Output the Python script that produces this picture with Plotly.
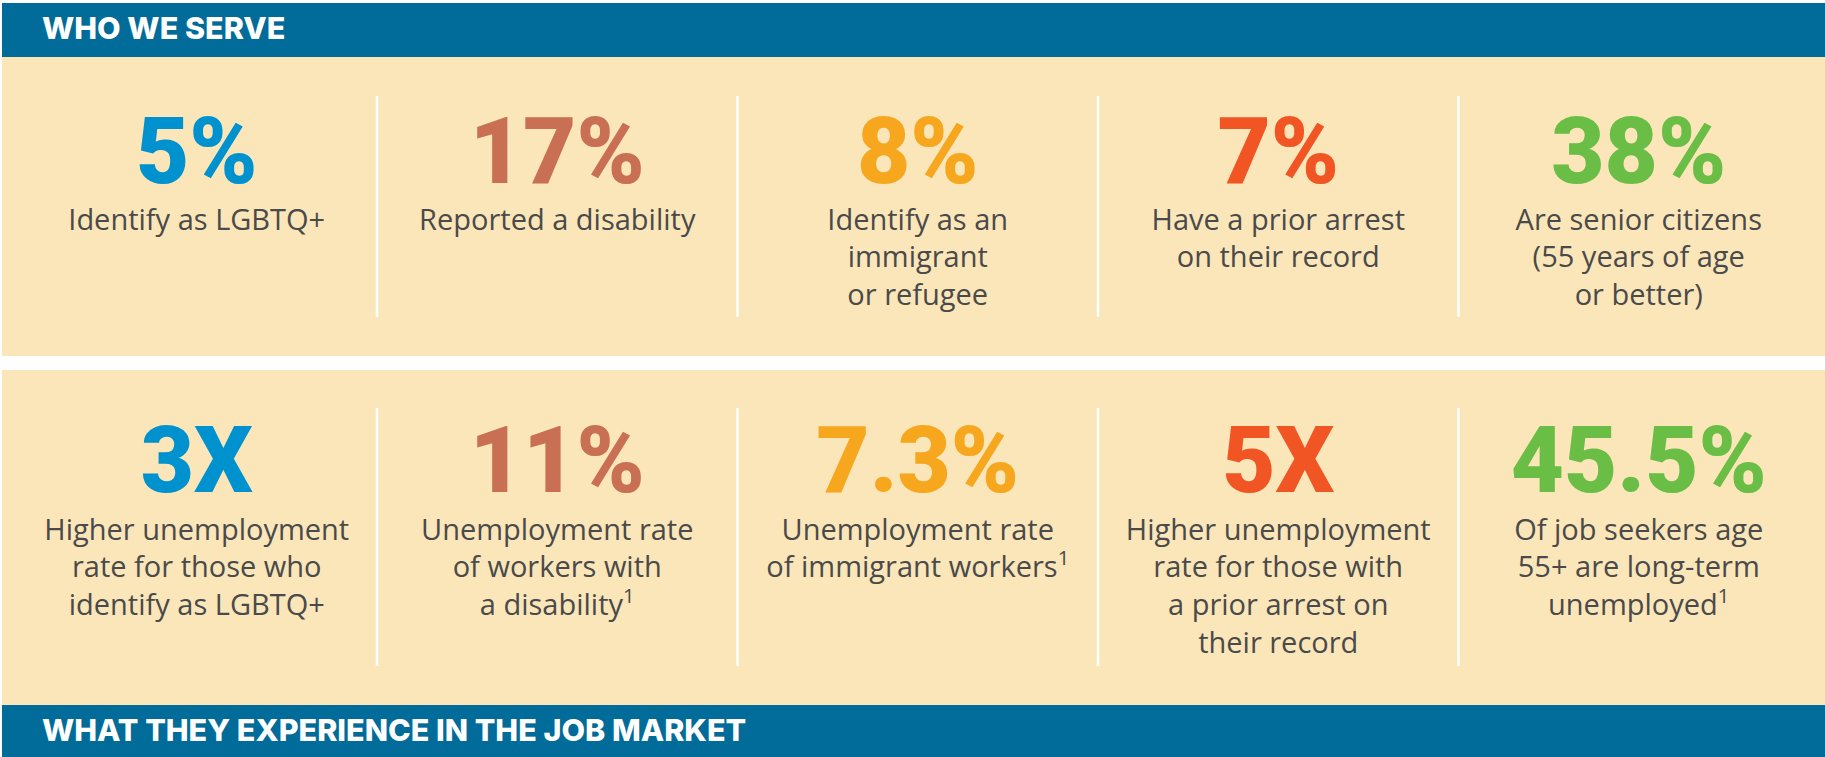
import plotly.graph_objects as go

# ---- data ----
section_titles = ["WHO WE SERVE", "WHAT THEY EXPERIENCE IN THE JOB MARKET"]
stat_values_top = ["5%", "17%", "8%", "7%", "38%"]
stat_labels_top = [
    "Identify as LGBTQ+",
    "Reported a disability",
    "Identify as an<br>immigrant<br>or refugee",
    "Have a prior arrest<br>on their record",
    "Are senior citizens<br>(55 years of age<br>or better)",
]
stat_values_bottom = ["3X", "11%", "7.3%", "5X", "45.5%"]
stat_labels_bottom = [
    "Higher unemployment<br>rate for those who<br>identify as LGBTQ+",
    "Unemployment rate<br>of workers with<br>a disability<sup>1</sup>",
    "Unemployment rate<br>of immigrant workers<sup>1</sup>",
    "Higher unemployment<br>rate for those with<br>a prior arrest on<br>their record",
    "Of job seekers age<br>55+ are long-term<br>unemployed<sup>1</sup>",
]
stat_colors = ["#0092cf", "#c96f53", "#f6a71e", "#f15524", "#6abd45"]

# ---- layout constants ----
W, H = 1825, 757
BLUE = "#016b99"
BEIGE = "#fae6b9"
TEXT = "#4a4a4a"
col_left, col_w = 16.5, 360.5
n = len(stat_values_top)
centers = [col_left + col_w * (i + 0.5) for i in range(n)]
dividers = [col_left + col_w * (i + 1) for i in range(n - 1)]

fig = go.Figure()

shapes = [
    dict(type="rect", x0=2, x1=W, y0=3, y1=57, fillcolor=BLUE, line_width=0, layer="below"),
    dict(type="rect", x0=2, x1=W, y0=57, y1=356, fillcolor=BEIGE, line_width=0, layer="below"),
    dict(type="rect", x0=2, x1=W, y0=370, y1=705, fillcolor=BEIGE, line_width=0, layer="below"),
    dict(type="rect", x0=2, x1=W, y0=705, y1=H, fillcolor=BLUE, line_width=0, layer="below"),
]
for d in dividers:
    shapes.append(dict(type="line", x0=d, x1=d, y0=96, y1=317, line=dict(color="white", width=2.5)))
    shapes.append(dict(type="line", x0=d, x1=d, y0=408, y1=666, line=dict(color="white", width=2.5)))

# section titles
fig.add_trace(go.Scatter(
    x=[42, 42], y=[31, 733], mode="text", text=section_titles,
    textposition="middle right",
    textfont=dict(family="Inter", size=30.5, color="white", weight=800),
    hoverinfo="skip", showlegend=False,
))

# big numbers
for vals, yv in [(stat_values_top, 160), (stat_values_bottom, 469)]:
    fig.add_trace(go.Scatter(
        x=centers, y=[yv] * n, mode="text", text=vals,
        textposition="middle center",
        textfont=dict(family="Roboto", size=92, color=stat_colors, weight=900),
        hoverinfo="skip", showlegend=False,
    ))

# descriptions
for labels, yv in [(stat_labels_top, 208), (stat_labels_bottom, 518)]:
    fig.add_trace(go.Scatter(
        x=centers, y=[yv] * n, mode="text", text=labels,
        textposition="bottom center",
        textfont=dict(family="Open Sans", size=29, color=TEXT),
        hoverinfo="skip", showlegend=False,
    ))

fig.update_layout(
    width=W, height=H,
    margin=dict(l=0, r=0, t=0, b=0),
    paper_bgcolor="white", plot_bgcolor="white",
    shapes=shapes,
    xaxis=dict(range=[0, W], visible=False, fixedrange=True),
    yaxis=dict(range=[H, 0], visible=False, fixedrange=True),
)

fig.write_html(
    "out.html",
    config={"displayModeBar": False},
    post_script="document.body.style.margin='0';document.body.style.overflow='hidden';",
)
